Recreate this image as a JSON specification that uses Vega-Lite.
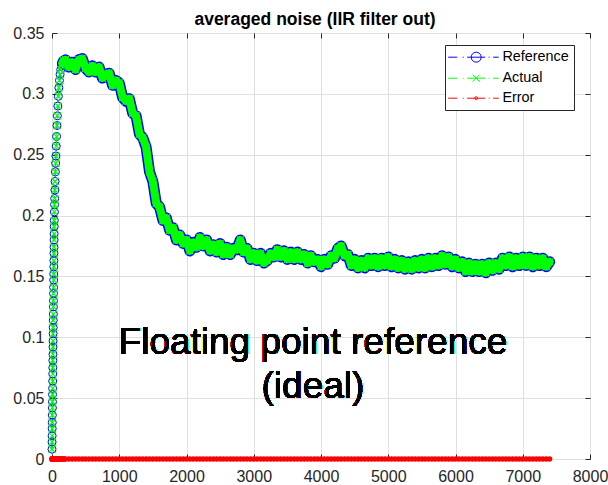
{
  "$schema": "https://vega.github.io/schema/vega-lite/v6.json",
  "width": 538,
  "height": 426,
  "autosize": {"type": "none"},
  "padding": {"left": 52, "top": 33, "right": 18, "bottom": 26},
  "background": "white",
  "title": {"text": "averaged noise (IIR filter out)", "font": "Liberation Sans", "fontSize": 17.5, "fontWeight": "bold", "color": "#000000", "offset": -3, "dx": -6, "anchor": "middle"},
  "config": {
    "view": {"stroke": "#262626", "strokeWidth": 1},
    "legend": {"orient": "none", "legendX": 393, "legendY": 12, "padding": 5, "strokeColor": "#262626", "fillColor": "white", "labelFont": "Liberation Sans", "labelFontSize": 14.4, "labelColor": "#000000", "symbolSize": 100, "symbolOffset": 19, "labelOffset": 19, "rowPadding": 5, "symbolFillColor": "transparent", "title": null}
  },
  "data": {"values": [
    {"x":0,"ref":0.008,"act":0.008,"err":0},{"x":1,"ref":0.014,"act":0.014,"err":0},{"x":2,"ref":0.019,"act":0.019,"err":0},{"x":3,"ref":0.025,"act":0.025,"err":0},{"x":4,"ref":0.030,"act":0.030,"err":0},{"x":5,"ref":0.036,"act":0.036,"err":0},{"x":6,"ref":0.042,"act":0.042,"err":0},{"x":7,"ref":0.047,"act":0.047,"err":0},{"x":8,"ref":0.053,"act":0.053,"err":0},{"x":9,"ref":0.058,"act":0.058,"err":0},{"x":10,"ref":0.064,"act":0.064,"err":0},{"x":11,"ref":0.070,"act":0.070,"err":0},{"x":12,"ref":0.075,"act":0.075,"err":0},{"x":13,"ref":0.081,"act":0.081,"err":0},{"x":14,"ref":0.086,"act":0.086,"err":0},{"x":15,"ref":0.092,"act":0.092,"err":0},{"x":16,"ref":0.097,"act":0.097,"err":0},{"x":17,"ref":0.103,"act":0.103,"err":0},{"x":18,"ref":0.108,"act":0.108,"err":0},{"x":19,"ref":0.114,"act":0.114,"err":0},{"x":20,"ref":0.119,"act":0.119,"err":0},{"x":21,"ref":0.125,"act":0.125,"err":0},{"x":22,"ref":0.130,"act":0.130,"err":0},{"x":23,"ref":0.136,"act":0.136,"err":0},{"x":24,"ref":0.141,"act":0.141,"err":0},{"x":25,"ref":0.147,"act":0.147,"err":0},{"x":26,"ref":0.152,"act":0.152,"err":0},{"x":27,"ref":0.158,"act":0.158,"err":0},{"x":28,"ref":0.163,"act":0.163,"err":0},{"x":29,"ref":0.169,"act":0.169,"err":0},{"x":30,"ref":0.174,"act":0.174,"err":0},{"x":31,"ref":0.180,"act":0.180,"err":0},{"x":32,"ref":0.185,"act":0.185,"err":0},{"x":33,"ref":0.191,"act":0.191,"err":0},{"x":34,"ref":0.196,"act":0.196,"err":0},
    {"x":36,"ref":0.203,"act":0.203,"err":0},{"x":38,"ref":0.209,"act":0.209,"err":0},{"x":40,"ref":0.214,"act":0.214,"err":0},{"x":43,"ref":0.221,"act":0.221,"err":0},{"x":46,"ref":0.228,"act":0.228,"err":0},{"x":50,"ref":0.236,"act":0.236,"err":0},{"x":54,"ref":0.243,"act":0.243,"err":0},{"x":58,"ref":0.249,"act":0.249,"err":0},{"x":63,"ref":0.257,"act":0.257,"err":0},{"x":68,"ref":0.265,"act":0.265,"err":0},{"x":74,"ref":0.274,"act":0.274,"err":0},{"x":80,"ref":0.282,"act":0.282,"err":0},{"x":87,"ref":0.290,"act":0.290,"err":0},{"x":94,"ref":0.298,"act":0.298,"err":0},{"x":102,"ref":0.305,"act":0.305,"err":0},{"x":111,"ref":0.311,"act":0.311,"err":0},{"x":120,"ref":0.316,"act":0.316,"err":0},{"x":130,"ref":0.320,"act":0.320,"err":0},{"x":142,"ref":0.323,"act":0.323,"err":0},{"x":155,"ref":0.325,"act":0.325,"err":0},{"x":170,"ref":0.327,"act":0.327,"err":0},{"x":185,"ref":0.326,"act":0.326,"err":0},
    {"x":200,"ref":0.328,"act":0.328,"err":0},{"x":250,"ref":0.322,"act":0.322,"err":0},{"x":300,"ref":0.326,"act":0.326,"err":0},{"x":350,"ref":0.320,"act":0.320,"err":0},{"x":400,"ref":0.328,"act":0.328,"err":0},{"x":450,"ref":0.329,"act":0.329,"err":0},{"x":500,"ref":0.321,"act":0.321,"err":0},{"x":550,"ref":0.318,"act":0.318,"err":0},{"x":600,"ref":0.323,"act":0.323,"err":0},{"x":650,"ref":0.318,"act":0.318,"err":0},{"x":700,"ref":0.322,"act":0.322,"err":0},{"x":750,"ref":0.313,"act":0.313,"err":0},{"x":800,"ref":0.316,"act":0.316,"err":0},{"x":850,"ref":0.317,"act":0.317,"err":0},{"x":900,"ref":0.307,"act":0.307,"err":0},{"x":950,"ref":0.311,"act":0.311,"err":0},{"x":1000,"ref":0.309,"act":0.309,"err":0},{"x":1050,"ref":0.297,"act":0.297,"err":0},{"x":1100,"ref":0.294,"act":0.294,"err":0},{"x":1150,"ref":0.296,"act":0.296,"err":0},{"x":1200,"ref":0.284,"act":0.284,"err":0},{"x":1250,"ref":0.282,"act":0.282,"err":0},{"x":1300,"ref":0.267,"act":0.267,"err":0},{"x":1350,"ref":0.264,"act":0.264,"err":0},{"x":1400,"ref":0.256,"act":0.256,"err":0},{"x":1450,"ref":0.236,"act":0.236,"err":0},{"x":1500,"ref":0.228,"act":0.228,"err":0},{"x":1550,"ref":0.210,"act":0.210,"err":0},{"x":1600,"ref":0.207,"act":0.207,"err":0},{"x":1650,"ref":0.196,"act":0.196,"err":0},{"x":1700,"ref":0.198,"act":0.198,"err":0},{"x":1750,"ref":0.188,"act":0.188,"err":0},{"x":1800,"ref":0.190,"act":0.190,"err":0},{"x":1850,"ref":0.180,"act":0.180,"err":0},{"x":1900,"ref":0.184,"act":0.184,"err":0},{"x":1950,"ref":0.177,"act":0.177,"err":0},{"x":2000,"ref":0.180,"act":0.180,"err":0},
    {"x":2050,"ref":0.171,"act":0.171,"err":0},{"x":2100,"ref":0.178,"act":0.178,"err":0},{"x":2150,"ref":0.174,"act":0.174,"err":0},{"x":2200,"ref":0.182,"act":0.182,"err":0},{"x":2250,"ref":0.175,"act":0.175,"err":0},{"x":2300,"ref":0.180,"act":0.180,"err":0},{"x":2350,"ref":0.171,"act":0.171,"err":0},{"x":2400,"ref":0.176,"act":0.176,"err":0},{"x":2450,"ref":0.170,"act":0.170,"err":0},{"x":2500,"ref":0.177,"act":0.177,"err":0},{"x":2550,"ref":0.168,"act":0.168,"err":0},{"x":2600,"ref":0.174,"act":0.174,"err":0},{"x":2650,"ref":0.168,"act":0.168,"err":0},{"x":2700,"ref":0.173,"act":0.173,"err":0},{"x":2750,"ref":0.172,"act":0.172,"err":0},{"x":2800,"ref":0.180,"act":0.180,"err":0},{"x":2850,"ref":0.170,"act":0.170,"err":0},{"x":2900,"ref":0.173,"act":0.173,"err":0},{"x":2950,"ref":0.164,"act":0.164,"err":0},{"x":3000,"ref":0.169,"act":0.169,"err":0},
    {"x":3050,"ref":0.163,"act":0.163,"err":0},{"x":3100,"ref":0.169,"act":0.169,"err":0},{"x":3150,"ref":0.161,"act":0.161,"err":0},{"x":3200,"ref":0.163,"act":0.163,"err":0},{"x":3250,"ref":0.169,"act":0.169,"err":0},{"x":3300,"ref":0.166,"act":0.166,"err":0},{"x":3350,"ref":0.172,"act":0.172,"err":0},{"x":3400,"ref":0.166,"act":0.166,"err":0},{"x":3450,"ref":0.171,"act":0.171,"err":0},{"x":3500,"ref":0.164,"act":0.164,"err":0},{"x":3550,"ref":0.170,"act":0.170,"err":0},{"x":3600,"ref":0.164,"act":0.164,"err":0},{"x":3650,"ref":0.170,"act":0.170,"err":0},{"x":3700,"ref":0.164,"act":0.164,"err":0},{"x":3750,"ref":0.168,"act":0.168,"err":0},{"x":3800,"ref":0.161,"act":0.161,"err":0},{"x":3850,"ref":0.167,"act":0.167,"err":0},{"x":3900,"ref":0.162,"act":0.162,"err":0},{"x":3950,"ref":0.164,"act":0.164,"err":0},{"x":4000,"ref":0.158,"act":0.158,"err":0},
    {"x":4050,"ref":0.164,"act":0.164,"err":0},{"x":4100,"ref":0.160,"act":0.160,"err":0},{"x":4150,"ref":0.167,"act":0.167,"err":0},{"x":4200,"ref":0.165,"act":0.165,"err":0},{"x":4250,"ref":0.173,"act":0.173,"err":0},{"x":4300,"ref":0.175,"act":0.175,"err":0},{"x":4350,"ref":0.167,"act":0.167,"err":0},{"x":4400,"ref":0.168,"act":0.168,"err":0},{"x":4450,"ref":0.159,"act":0.159,"err":0},{"x":4500,"ref":0.164,"act":0.164,"err":0},{"x":4550,"ref":0.157,"act":0.157,"err":0},{"x":4600,"ref":0.163,"act":0.163,"err":0},{"x":4650,"ref":0.157,"act":0.157,"err":0},{"x":4700,"ref":0.165,"act":0.165,"err":0},{"x":4750,"ref":0.159,"act":0.159,"err":0},{"x":4800,"ref":0.165,"act":0.165,"err":0},{"x":4850,"ref":0.158,"act":0.158,"err":0},{"x":4900,"ref":0.165,"act":0.165,"err":0},{"x":4950,"ref":0.159,"act":0.159,"err":0},{"x":5000,"ref":0.166,"act":0.166,"err":0},
    {"x":5050,"ref":0.158,"act":0.158,"err":0},{"x":5100,"ref":0.164,"act":0.164,"err":0},{"x":5150,"ref":0.157,"act":0.157,"err":0},{"x":5200,"ref":0.163,"act":0.163,"err":0},{"x":5250,"ref":0.156,"act":0.156,"err":0},{"x":5300,"ref":0.162,"act":0.162,"err":0},{"x":5350,"ref":0.156,"act":0.156,"err":0},{"x":5400,"ref":0.163,"act":0.163,"err":0},{"x":5450,"ref":0.157,"act":0.157,"err":0},{"x":5500,"ref":0.164,"act":0.164,"err":0},{"x":5550,"ref":0.157,"act":0.157,"err":0},{"x":5600,"ref":0.165,"act":0.165,"err":0},{"x":5650,"ref":0.158,"act":0.158,"err":0},{"x":5700,"ref":0.165,"act":0.165,"err":0},{"x":5750,"ref":0.159,"act":0.159,"err":0},{"x":5800,"ref":0.167,"act":0.167,"err":0},{"x":5850,"ref":0.160,"act":0.160,"err":0},{"x":5900,"ref":0.166,"act":0.166,"err":0},{"x":5950,"ref":0.158,"act":0.158,"err":0},{"x":6000,"ref":0.164,"act":0.164,"err":0},
    {"x":6050,"ref":0.157,"act":0.157,"err":0},{"x":6100,"ref":0.162,"act":0.162,"err":0},{"x":6150,"ref":0.154,"act":0.154,"err":0},{"x":6200,"ref":0.161,"act":0.161,"err":0},{"x":6250,"ref":0.154,"act":0.154,"err":0},{"x":6300,"ref":0.160,"act":0.160,"err":0},{"x":6350,"ref":0.154,"act":0.154,"err":0},{"x":6400,"ref":0.160,"act":0.160,"err":0},{"x":6450,"ref":0.153,"act":0.153,"err":0},{"x":6500,"ref":0.161,"act":0.161,"err":0},{"x":6550,"ref":0.155,"act":0.155,"err":0},{"x":6600,"ref":0.161,"act":0.161,"err":0},{"x":6650,"ref":0.156,"act":0.156,"err":0},{"x":6700,"ref":0.165,"act":0.165,"err":0},{"x":6750,"ref":0.159,"act":0.159,"err":0},{"x":6800,"ref":0.166,"act":0.166,"err":0},{"x":6850,"ref":0.158,"act":0.158,"err":0},{"x":6900,"ref":0.165,"act":0.165,"err":0},{"x":6950,"ref":0.159,"act":0.159,"err":0},{"x":7000,"ref":0.166,"act":0.166,"err":0},
    {"x":7050,"ref":0.159,"act":0.159,"err":0},{"x":7100,"ref":0.166,"act":0.166,"err":0},{"x":7150,"ref":0.158,"act":0.158,"err":0},{"x":7200,"ref":0.165,"act":0.165,"err":0},{"x":7250,"ref":0.159,"act":0.159,"err":0},{"x":7300,"ref":0.165,"act":0.165,"err":0},{"x":7350,"ref":0.158,"act":0.158,"err":0},{"x":7400,"ref":0.162,"act":0.162,"err":0}
  ]},
  "resolve": {"axis": {"x": "independent", "y": "independent"}},
  "layer": [
    {
      "mark": {"type": "line", "strokeWidth": 1, "strokeDash": [8, 3, 2, 3]},
      "encoding": {
        "x": {"field": "x", "type": "quantitative", "scale": {"domain": [0, 8000], "nice": false, "zero": false},
              "axis": {"orient": "bottom", "values": [0,1000,2000,3000,4000,5000,6000,7000,8000], "format": "d", "grid": true, "gridColor": "#dfdfdf", "gridWidth": 1, "domain": false, "ticks": true, "tickColor": "#262626", "tickSize": -5, "labelFont": "Liberation Sans", "labelFontSize": 16, "labelColor": "#262626", "labelPadding": 14, "labelFlush": false, "labelOverlap": false, "title": null}},
        "y": {"field": "ref", "type": "quantitative", "scale": {"domain": [0, 0.35], "nice": false, "zero": false},
              "axis": {"orient": "left", "values": [0,0.05,0.1,0.15,0.2,0.25,0.3,0.35], "format": "~g", "grid": true, "gridColor": "#dfdfdf", "gridWidth": 1, "domain": false, "ticks": true, "tickColor": "#262626", "tickSize": -5, "labelFont": "Liberation Sans", "labelFontSize": 16, "labelColor": "#262626", "labelPadding": 13, "labelFlush": false, "labelOverlap": false, "title": null}},
        "color": {"datum": "Reference", "type": "nominal",
                  "scale": {"domain": ["Reference", "Actual", "Error"], "range": ["#0000ff", "#00ff00", "#ff0000"]},
                  "legend": {"symbolFillColor": "transparent", "encode": {"symbols": {"update": {
                    "shape": {"signal": "datum.value === 'Reference' ? 'M-5.6,0H-3.8M-2.7,0H-2.5M-1.8,0H-1M1,0H1.8M2.5,0H2.7M3.4,0H4.5M-1,0H1M1,0A1,1 0 1 1 -1,0A1,1 0 1 1 1,0' : datum.value === 'Actual' ? 'M-5.6,0H-3.8M-2.7,0H-2.5M-1.8,0H1.8M2.5,0H2.7M3.4,0H4.5M-0.7,-0.7L0.7,0.7M-0.7,0.7L0.7,-0.7' : 'M-5.6,0H-3.8M-2.7,0H-2.5M-1.8,0H1.8M2.5,0H2.7M3.4,0H4.5M0.3,0A0.3,0.3 0 1 1 -0.3,0A0.3,0.3 0 1 1 0.3,0'"},
                    "stroke": {"scale": "color", "field": "value"},
                    "fill": {"value": "transparent"},
                    "fillOpacity": {"value": 0},
                    "strokeWidth": {"value": 1},
                    "strokeDash": {"value": []},
                    "opacity": {"value": 1},
                    "strokeOpacity": {"value": 1}
                  }}}}}
      }
    },
    {
      "transform": [{"filter": "datum.x >= 150"}],
      "mark": {"type": "line", "strokeWidth": 11, "strokeJoin": "round", "strokeCap": "round"},
      "encoding": {
        "x": {"field": "x", "type": "quantitative", "axis": null},
        "y": {"field": "ref", "type": "quantitative", "axis": null},
        "color": {"datum": "Reference", "type": "nominal"}
      }
    },
    {
      "mark": {"type": "point", "shape": "circle", "filled": false, "size": 64, "strokeWidth": 1, "opacity": 1},
      "encoding": {
        "x": {"field": "x", "type": "quantitative", "axis": null},
        "y": {"field": "ref", "type": "quantitative", "axis": null},
        "color": {"datum": "Reference", "type": "nominal"}
      }
    },
    {
      "transform": [{"filter": "datum.x >= 150"}],
      "mark": {"type": "line", "strokeWidth": 8, "strokeJoin": "round", "strokeCap": "round"},
      "encoding": {
        "x": {"field": "x", "type": "quantitative", "axis": null},
        "y": {"field": "act", "type": "quantitative", "axis": null},
        "color": {"datum": "Actual", "type": "nominal"}
      }
    },
    {
      "mark": {"type": "line", "strokeWidth": 1, "strokeDash": [8, 3, 2, 3]},
      "encoding": {
        "x": {"field": "x", "type": "quantitative", "axis": null},
        "y": {"field": "act", "type": "quantitative", "axis": null},
        "color": {"datum": "Actual", "type": "nominal"}
      }
    },
    {
      "mark": {"type": "point", "shape": "M-1,-1L1,1M-1,1L1,-1", "filled": false, "size": 49, "strokeWidth": 1.2, "opacity": 1},
      "encoding": {
        "x": {"field": "x", "type": "quantitative", "axis": null},
        "y": {"field": "act", "type": "quantitative", "axis": null},
        "color": {"datum": "Actual", "type": "nominal"}
      }
    },
    {
      "mark": {"type": "line", "strokeWidth": 3},
      "encoding": {
        "x": {"field": "x", "type": "quantitative", "axis": null},
        "y": {"field": "err", "type": "quantitative", "axis": null},
        "color": {"datum": "Error", "type": "nominal"}
      }
    },
    {
      "mark": {"type": "point", "shape": "circle", "filled": true, "size": 28, "opacity": 1},
      "encoding": {
        "x": {"field": "x", "type": "quantitative",
              "axis": {"orient": "top", "values": [0,1000,2000,3000,4000,5000,6000,7000,8000], "labels": false, "grid": false, "domain": false, "ticks": true, "tickColor": "#262626", "tickSize": -5, "title": null}},
        "y": {"field": "err", "type": "quantitative",
              "axis": {"orient": "right", "values": [0,0.05,0.1,0.15,0.2,0.25,0.3,0.35], "labels": false, "grid": false, "domain": false, "ticks": true, "tickColor": "#262626", "tickSize": -5, "title": null}},
        "color": {"datum": "Error", "type": "nominal"}
      }
    },
    {
      "mark": {"type": "text", "font": "Liberation Sans", "fontSize": 37, "color": "#000000", "fillOpacity": 0.98, "align": "center", "baseline": "middle", "lineHeight": 44, "text": ["Floating point reference", "(ideal)"]},
      "encoding": {
        "x": {"datum": 3880, "type": "quantitative", "axis": null},
        "y": {"datum": 0.0957, "type": "quantitative", "axis": null}
      }
    }
  ]
}
